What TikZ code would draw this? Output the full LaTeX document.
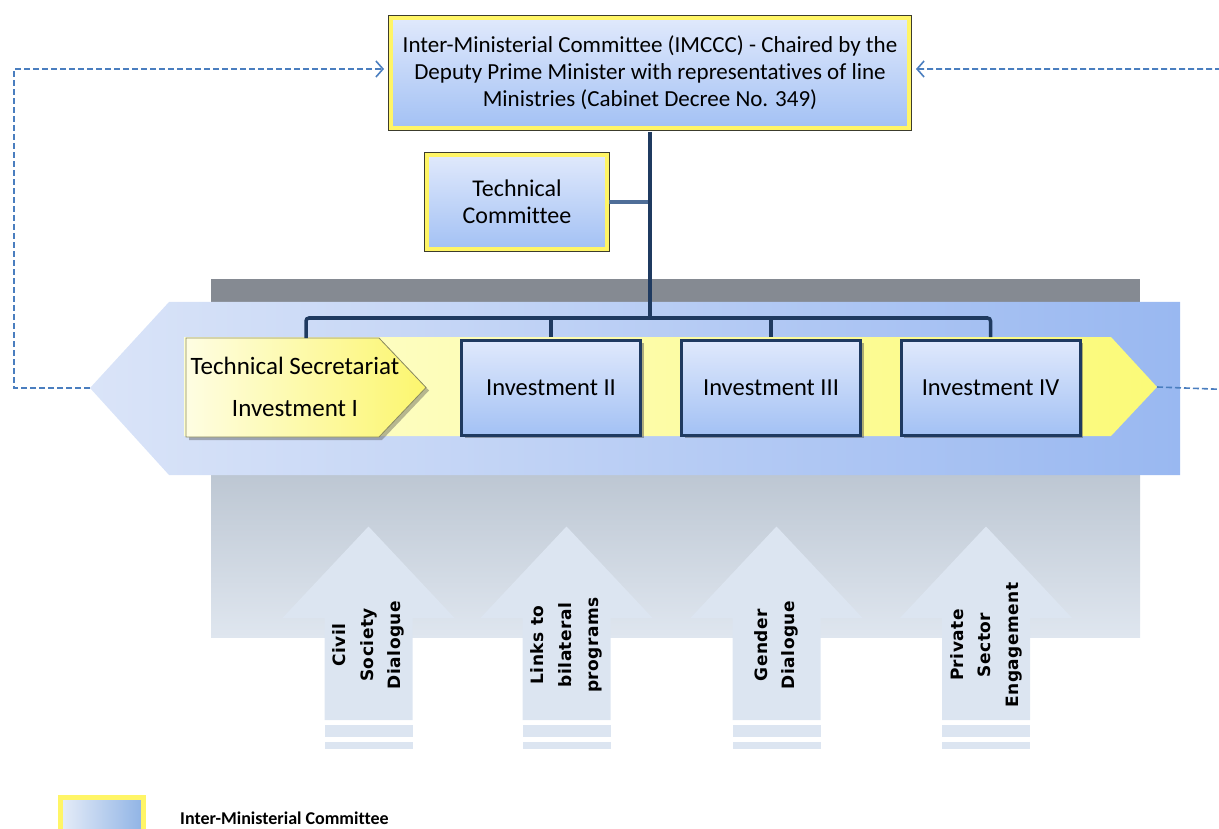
\documentclass[tikz,border=0pt]{standalone}
\usepackage{fontspec}
\setmainfont{Carlito}[RawFeature={-liga;-clig;-calt;-dlig}]
\newfontfamily\dejavu{DejaVu Sans}[LetterSpace=3]
\usetikzlibrary{arrows.meta,shadows,calc}
\definecolor{boxtop}{HTML}{E0E9FC}
\definecolor{boxbot}{HTML}{A3C1F4}
\definecolor{ylw}{HTML}{FFF566}
\definecolor{rim}{HTML}{3C3C2C}
\definecolor{navy}{HTML}{1F3A60}
\definecolor{linkblue}{HTML}{4F6E98}
\definecolor{dashc}{HTML}{4A7EBF}
\definecolor{bandL}{HTML}{DAE4F8}
\definecolor{bandR}{HTML}{99B8F1}
\definecolor{ybandL}{HTML}{FEFED2}
\definecolor{ybandR}{HTML}{FBFA78}
\definecolor{tsL}{HTML}{FEFDE2}
\definecolor{tsR}{HTML}{FCF66E}
\definecolor{tsedge}{HTML}{8A8A60}
\definecolor{grayD}{HTML}{858A92}
\definecolor{grayT}{HTML}{BCC6D2}
\definecolor{grayB}{HTML}{DFE6EF}
\definecolor{arrowc}{HTML}{DCE5F1}
\definecolor{legL}{HTML}{E6EDF8}
\definecolor{legR}{HTML}{8FB3E5}
\tikzset{
  imcbox/.style={rectangle, inner sep=0pt, align=center,
    drop shadow={shadow xshift=3pt, shadow yshift=-3pt, opacity=0.45, fill=black!70},
    preaction={draw=rim, line width=6pt},
    top color=boxtop, bottom color=boxbot, draw=ylw, line width=4pt,
    font=\fontsize{23}{27}\selectfont},
  invbox/.style={rectangle, inner sep=0pt, align=center,
    drop shadow={shadow xshift=3pt, shadow yshift=-3pt, opacity=0.45, fill=black!70},
    top color=boxtop, bottom color=boxbot, draw=navy, line width=3pt,
    minimum width=179pt, minimum height=95pt,
    font=\fontsize{24.5}{29}\selectfont},
  conn/.style={draw=navy, line width=3.5pt},
  tclink/.style={draw=linkblue, line width=3.5pt},
  dashlink/.style={draw=dashc, line width=1.6pt, dash pattern=on 6pt off 3pt,
    -{Straight Barb[length=7pt,width=16pt,line width=1.6pt]}},
  uparrow/.style={fill=arrowc},
  arrowtext/.style={rotate=90, align=center, inner sep=0pt,
    font=\dejavu\bfseries\fontsize{17}{27.5}\selectfont},
  legtext/.style={anchor=base west, inner sep=0pt, font=\bfseries\fontsize{18}{22}\selectfont}
}
\begin{document}
\begin{tikzpicture}[x=1pt,y=-1pt]
\clip (0,0) rectangle (1219,829);
% gray background block
\fill[grayD] (211,279) rectangle (1140,306);
\shade[top color=grayT, bottom color=grayB] (211,470) rectangle (1140,637);
% blue band
\shade[left color=bandL, right color=bandR] (90,388) -- (169,302) -- (1180,302) -- (1180,475) -- (169,475) -- cycle;
\coordinate (btip) at (90,388);
% yellow band
\shade[left color=ybandL, right color=ybandR] (184,337) -- (1111,337) -- (1157,387) -- (1111,436) -- (184,436) -- cycle;
\coordinate (ytip) at (1157,387);
% technical secretariat
\draw[tsedge, line width=0.8pt, left color=tsL, right color=tsR,
  drop shadow={shadow xshift=3pt, shadow yshift=-3pt, opacity=0.4, fill=black!70}]
  (186,338) -- (379,338) -- (426,387.5) -- (379,437) -- (186,437) -- cycle;
\coordinate (tstop) at (306,338);
\node[font=\fontsize{25}{42}\selectfont, align=center, inner sep=0pt] (ts) at (295,387) {Technical Secretariat\\Investment I};
% top boxes
\node[imcbox, minimum width=518pt, minimum height=110pt] (imccc) at (650,73)
  {Inter-Ministerial Committee (IMCCC) - Chaired by the\\Deputy Prime Minister with representatives of line\\Ministries (Cabinet Decree No. 349)};
\node[imcbox, minimum width=180pt, minimum height=94pt, font=\fontsize{24}{27}\selectfont] (tc) at (517,202) {Technical\\Committee};
% investment boxes
\node[invbox] (inv2) at (551,387.5) {Investment II};
\node[invbox] (inv3) at (771,387.5) {Investment III};
\node[invbox] (inv4) at (990.5,387.5) {Investment IV};
% connectors
\coordinate (bus) at (650,318);
\draw[tclink] (tc.east) -- (tc.east -| bus);
\draw[conn] ([yshift=-2pt]imccc.south) -- (bus);
\draw[conn, rounded corners=3pt] (tstop) |- (bus) -| ([yshift=1.5pt]inv4.north);
\draw[conn] ([yshift=1.5pt]inv2.north) -- (inv2.north |- bus);
\draw[conn] ([yshift=1.5pt]inv3.north) -- (inv3.north |- bus);
% dashed feedback links
\draw[dashlink, shorten >=5pt] (btip) -- (14,388) -- (14,69) -- ([yshift=4pt]imccc.west);
\draw[dashlink, shorten >=5pt] (ytip) -- (1240,390) -- (1240,69) -- ([yshift=4pt]imccc.east);
% up arrows
\foreach \c/\n/\t in {368.5/a1/{Civil\\Society\\Dialogue},
                       566.5/a2/{Links to\\bilateral\\programs},
                       776.5/a3/{Gender\\Dialogue},
                       986/a4/{Private\\Sector\\Engagement}}{
  \fill[uparrow] (\c-44,720) -- (\c-44,618) -- (\c-86,618) -- (\c,526.5) -- (\c+86,618) -- (\c+44,618) -- (\c+44,720) -- cycle;
  \fill[uparrow] (\c-44,725) rectangle (\c+44,737);
  \fill[uparrow] (\c-44,742) rectangle (\c+44,749);
  \node[arrowtext] (\n) at (\c,645) {\t};
}
% legend
\draw[draw=ylw, line width=5pt, left color=legL, right color=legR] (60.5,797.5) rectangle (143.5,845);
\node[legtext] (leg) at (180,824) {Inter-Ministerial Committee};
\end{tikzpicture}
\end{document}
